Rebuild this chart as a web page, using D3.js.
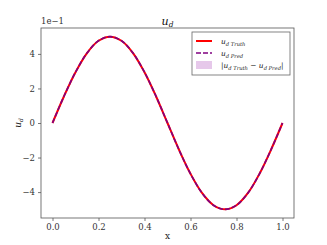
<!DOCTYPE html>
<html><head><meta charset="utf-8">
<script src="https://cdn.jsdelivr.net/npm/d3@7"></script>
<style>body{margin:0;background:#fff}svg{display:block}text{font-family:"DejaVu Serif",serif}</style>
</head><body><svg id="c" width="327" height="245"></svg>
<script>
const xs = [0,0.05,0.1,0.15,0.2,0.25,0.3,0.35,0.4,0.45,0.5,0.55,0.6,0.65,0.7,0.75,0.8,0.85,0.9,0.95,1.0];
const truth = [0,0.155,0.294,0.405,0.476,0.5,0.476,0.405,0.294,0.155,0,-0.155,-0.294,-0.405,-0.476,-0.5,-0.476,-0.405,-0.294,-0.155,0];
const pred = [0,0.155,0.294,0.405,0.476,0.5,0.476,0.405,0.294,0.155,0,-0.155,-0.294,-0.405,-0.476,-0.5,-0.476,-0.405,-0.294,-0.155,0];
const xTicks = [0,0.2,0.4,0.6,0.8,1.0];
const yTicks = [-4,-2,0,2,4];

const svg = d3.select("#c");
const L=41,R=294,T=28,B=218;
const MATH = "DejaVu Sans";
const x = d3.scaleLinear().domain([-0.05,1.05]).range([L,R]);
const y = d3.scaleLinear().domain([-5.5,5.5]).range([B,T]);

const err = xs.map((v,i)=>Math.abs(truth[i]-pred[i]));
svg.append("path").datum(xs).attr("fill","#e6c8ea").attr("opacity",0.8)
  .attr("d",d3.area().x(d=>x(d)).y0(y(0)).y1((d,i)=>y(err[i]*10)));

const line = d3.line().curve(d3.curveCatmullRom);
svg.append("path").attr("fill","none").attr("stroke","#ff0000").attr("stroke-width",2)
  .attr("d",line(xs.map((v,i)=>[x(v),y(truth[i]*10)])));
svg.append("path").attr("fill","none").attr("stroke","#800080").attr("stroke-width",1.6)
  .attr("stroke-dasharray","5,2").attr("d",line(xs.map((v,i)=>[x(v),y(pred[i]*10)])));

svg.append("rect").attr("x",L).attr("y",T).attr("width",R-L).attr("height",B-T)
  .attr("fill","none").attr("stroke","#555").attr("stroke-width",0.8);

const fmtY = d=> d<0 ? "\u2212"+Math.abs(d) : ""+d;
const gx = svg.append("g").attr("transform",`translate(0,${B})`)
  .call(d3.axisBottom(x).tickValues(xTicks).tickFormat(d3.format(".1f")).tickSize(3).tickPadding(3));
const gy = svg.append("g").attr("transform",`translate(${L},0)`)
  .call(d3.axisLeft(y).tickValues(yTicks).tickFormat(fmtY).tickSize(3).tickPadding(3));
[gx,gy].forEach(g=>{g.select(".domain").remove();
  g.selectAll("line").attr("stroke","#555").attr("stroke-width",0.8);
  g.selectAll("text").attr("font-family","DejaVu Serif").attr("font-size",8.5).attr("fill","#333");});

svg.append("text").attr("x",L).attr("y",T-4).attr("font-size",8.5).attr("fill","#333").text("1e\u22121");
const title = svg.append("text").attr("x",(L+R)/2).attr("y",T-3).attr("text-anchor","middle").attr("font-size",11).attr("font-style","italic").attr("font-family",MATH).attr("fill","#111");
title.append("tspan").text("u");
title.append("tspan").attr("font-size",7.5).attr("dy",2).text("d");
svg.append("text").attr("x",(L+R)/2).attr("y",239).attr("text-anchor","middle").attr("font-size",9).attr("fill","#222").text("x");
const yl = svg.append("text").attr("transform",`translate(21,${(T+B)/2}) rotate(-90)`).attr("text-anchor","middle").attr("font-size",9).attr("font-style","italic").attr("font-family",MATH).attr("fill","#222");
yl.append("tspan").text("u"); yl.append("tspan").attr("font-size",6).attr("dy",2).text("d");

// legend
const lg = svg.append("g");
lg.append("rect").attr("x",192).attr("y",32).attr("width",98).attr("height",43).attr("fill","#fff").attr("fill-opacity",0.8).attr("stroke","#666").attr("stroke-width",0.8);
lg.append("line").attr("x1",196).attr("x2",212).attr("y1",41).attr("y2",41).attr("stroke","#ff0000").attr("stroke-width",2);
lg.append("line").attr("x1",196).attr("x2",212).attr("y1",53).attr("y2",53).attr("stroke","#800080").attr("stroke-width",1.6).attr("stroke-dasharray","5,2");
lg.append("rect").attr("x",196).attr("y",61).attr("width",16).attr("height",8).attr("fill","#e6c8ea");
const FS=7.4, SS=5.2;
function row(yy){return lg.append("text").attr("x",221).attr("y",yy).attr("font-size",FS).attr("font-style","italic").attr("font-family",MATH).attr("fill","#222");}
const t1=row(44); t1.append("tspan").text("u"); t1.append("tspan").attr("font-size",SS).attr("dy",1.5).text("d Truth");
const t2=row(56); t2.append("tspan").text("u"); t2.append("tspan").attr("font-size",SS).attr("dy",1.5).text("d Pred");
const t3=row(68); t3.append("tspan").attr("font-style","normal").text("|"); t3.append("tspan").text("u"); t3.append("tspan").attr("font-size",SS).attr("dy",1.5).text("d Truth");
t3.append("tspan").attr("dy",-1.5).attr("font-style","normal").text(" \u2212 "); t3.append("tspan").text("u"); t3.append("tspan").attr("font-size",SS).attr("dy",1.5).text("d Pred");
t3.append("tspan").attr("dy",-1.5).attr("font-style","normal").text("|");
</script></body></html>
